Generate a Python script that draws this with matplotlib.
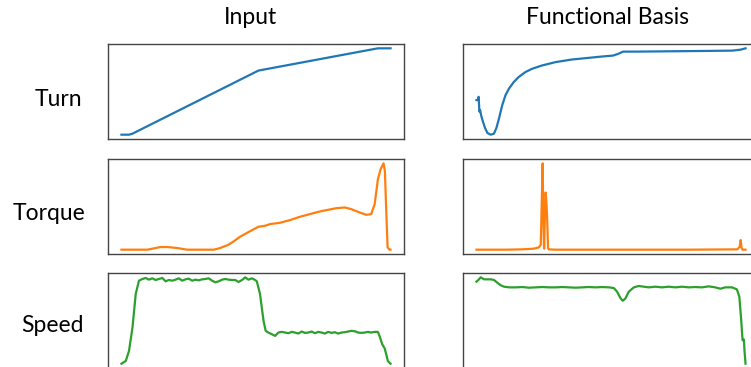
import matplotlib
matplotlib.use("Agg")
import matplotlib.pyplot as plt

# time axis is in percent of the recording, values in arbitrary units

turn_in_t = [0, 2.8, 4.1, 5.3, 50.9, 95.3, 100]
turn_in = [0, 0, 3, 8, 193, 260, 260]

turn_fb_t = [0, 0.7, 0.8, 1.1, 1.35, 1.7, 2.2, 3.2, 4.1, 5.3, 6.5, 7.4, 8.4, 9.6,
             10.8, 12.1, 13.9, 15.7, 18.2, 20.7, 24.4, 29.3, 35.4, 41.6, 46.5,
             50.8, 52.6, 54.5, 60.0, 72.3, 84.6, 95.1, 98.2, 100]
turn_fb = [105, 105, 115, 70, 75, 60, 45, 20, 5, 0, 3, 20, 50, 90,
           120, 140, 160, 175, 190, 200, 210, 220, 228, 233, 237,
           240, 245, 252, 252, 253, 254, 255, 258, 262]

torque_in_t = [0, 9.6, 12.1, 14.5, 17.0, 20.7, 24.4, 34.3, 36.7, 39.8, 41.7, 44.1,
               47.2, 50.9, 53.4, 55.2, 58.9, 62.6, 66.3, 70.0, 73.7, 77.4, 79.9,
               83.0, 85.4, 88.5, 91.0, 92.8, 94.1, 95.3, 96.3, 97.4, 97.9, 98.4,
               98.9, 99.6, 100]
torque_in = [0, 0, 4, 8, 8, 5, 0, 0, 5, 15, 25, 39,
             53, 69, 72, 77, 81, 89, 99, 107, 115, 121, 125,
             127, 122, 112, 105, 107, 137, 212, 242, 260, 237, 117,
             7, 0, 0]

torque_fb_t = [0, 10.8, 16.9, 21.3, 23.2, 23.9, 24.2, 24.6, 24.8, 25.1, 25.2, 25.3,
               25.7, 25.95, 26.3, 26.6, 26.9, 29.3, 53.9, 78.5, 96.9, 97.8, 98.2,
               98.5, 98.9, 100]
torque_fb = [0, 0, 1, 3, 7, 15, 120, 260, 130, 5, 3, 60,
             172, 150, 90, 5, 1, 0, 0, 0, 1, 8, 29,
             6, 0, 0]

speed_in_t = [0, 1.6, 2.8, 4.1, 5.3, 6.5, 7.8, 9.0, 10.2, 11.5, 12.7, 13.9, 15.2,
              16.4, 17.6, 18.9, 20.1, 21.3, 22.6, 23.8, 25.0, 26.3, 27.5, 28.7,
              30.0, 31.2, 32.4, 33.7, 34.9, 36.1, 37.4, 38.6, 39.8, 41.1, 42.3,
              43.5, 44.8, 46.0, 47.2, 48.5, 49.7, 50.3, 51.5, 52.8, 53.6, 54.6,
              55.9, 57.1, 58.3, 59.6, 60.8, 62.0, 63.3, 64.5, 65.7, 67.0, 68.2,
              69.4, 70.7, 71.9, 73.1, 74.4, 75.6, 76.8, 78.1, 79.3, 80.5, 81.8,
              83.0, 84.2, 85.4, 86.7, 87.9, 89.1, 90.4, 91.6, 92.8, 94.1, 95.3,
              95.9, 96.9, 97.8, 98.4, 99.0, 99.6, 100]
speed_in = [0, 8, 38, 108, 208, 248, 253, 256, 251, 255, 250, 253, 256,
            246, 250, 248, 251, 255, 248, 252, 254, 248, 251, 249,
            252, 253, 255, 248, 243, 246, 251, 253, 251, 250, 250,
            244, 250, 258, 251, 255, 250, 246, 208, 128, 98, 93,
            88, 83, 93, 95, 93, 91, 95, 93, 90, 96, 92,
            93, 96, 91, 95, 93, 90, 95, 92, 94, 90, 93,
            94, 96, 98, 97, 93, 92, 93, 95, 93, 95, 95,
            83, 58, 46, 28, 8, 3, 0]

speed_fb_t = [0, 0.7, 1.6, 2.2, 2.8, 4.1, 5.3, 6.5, 7.7, 9.0, 10.2, 12.1, 14.5,
              17.0, 19.4, 21.9, 24.4, 26.8, 29.3, 31.7, 34.2, 36.7, 39.1, 41.6,
              44.0, 46.5, 49.0, 50.8, 52.0, 53.3, 54.1, 55.1, 56.3, 58.2, 60.0,
              61.9, 63.7, 66.2, 68.6, 71.1, 73.6, 76.0, 78.5, 80.9, 83.4, 85.9,
              88.3, 90.2, 92.0, 94.5, 96.3, 97.2, 97.9, 98.4, 98.9, 99.1, 99.5]
speed_fb = [245, 250, 258, 255, 252, 252, 252, 250, 242, 234, 230, 228, 228,
            229, 227, 228, 229, 228, 228, 229, 228, 227, 228, 229,
            228, 229, 228, 226, 215, 195, 188, 195, 215, 228, 232,
            230, 228, 230, 228, 230, 228, 230, 228, 229, 228, 231,
            228, 224, 228, 228, 222, 200, 130, 70, 72, 40, 0]

row_labels = ["Turn", "Torque", "Speed"]
col_titles = ["Input", "Functional Basis"]
colors = ["#1f77b4", "#ff7f0e", "#2ca02c"]

series = [
    [(turn_in_t, turn_in), (turn_fb_t, turn_fb)],
    [(torque_in_t, torque_in), (torque_fb_t, torque_fb)],
    [(speed_in_t, speed_in), (speed_fb_t, speed_fb)],
]

W, H = 751, 367
fig = plt.figure(figsize=(W / 100, H / 100), dpi=100)
font = "Lato"

col_left = [108, 463]
row_top = [44, 159, 273]
aw, ah = 296, 95

for r in range(3):
    for c in range(2):
        ax = fig.add_axes([col_left[c] / W, 1 - (row_top[r] + ah) / H, aw / W, ah / H])
        t, v = series[r][c]
        ax.plot(t, v, color=colors[r], lw=1.6)
        ax.set_xticks([])
        ax.set_yticks([])
        for s in ax.spines.values():
            s.set_color("#444444")
            s.set_linewidth(1.0)

title_x = [251, 608]
for c in range(2):
    fig.text(title_x[c] / W, 1 - 17 / H, col_titles[c], ha="center", va="center",
             fontsize=16.5, family=font)

label_x = [58, 49, 52]
label_y = [100, 213, 325]
for r in range(3):
    fig.text(label_x[r] / W, 1 - label_y[r] / H, row_labels[r], ha="center", va="center",
             fontsize=16.5, family=font)

fig.savefig("out.png", dpi=100)
